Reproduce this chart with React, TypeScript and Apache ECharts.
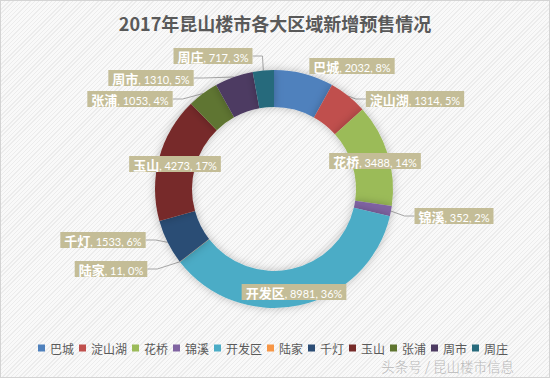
import React, { useEffect, useRef } from "react";
import * as echarts from "echarts";

const categories = ["巴城", "淀山湖", "花桥", "锦溪", "开发区", "陆家", "千灯", "玉山", "张浦", "周市", "周庄"];
const values = [2032, 1314, 3488, 352, 8981, 11, 1533, 4273, 1053, 1310, 717];
const colors = ["#4F81BD", "#C0504D", "#9BBB59", "#8064A2", "#4BACC6", "#F79646", "#2C4D75", "#772C2A", "#5F7530", "#4D3B62", "#276A7C"];
const titleText = "2017年昆山楼市各大区域新增预售情况";
const watermark = "头条号 / 昆山楼市信息";
// label box centres (callout placement)
const labelX = [352, 415, 375, 454, 294, 111, 103, 175, 130, 151, 213];
const labelY = [66, 99, 161, 216, 292, 269, 240, 164, 99, 78, 56];
const noLine = ["巴城", "花桥", "玉山", "开发区"];

export default function App() {
  const ref = useRef<HTMLDivElement>(null);
  useEffect(() => {
    const chart = echarts.init(ref.current!, null, { renderer: "svg" });
    chart.setOption({
      animation: false,
      color: colors,
      title: {
        text: titleText,
        left: "center",
        top: 9,
        textStyle: { fontSize: 18, fontWeight: "bold", color: "#595959", fontFamily: "Noto Sans CJK SC" },
      },
      legend: {
        left: 33,
        top: 336,
        padding: [5, 5, 2, 5],
        itemWidth: 7,
        itemHeight: 7,
        itemGap: 5,
        icon: "rect",
        textStyle: { fontSize: 12, color: "#595959", fontFamily: "Noto Sans CJK SC", lineHeight: 14 },
        data: categories,
      },
      graphic: [
        {
          type: "text",
          right: 36,
          top: 359,
          style: { text: watermark, fontSize: 13.5, fill: "#b8b8b8", fontFamily: "Noto Sans CJK SC", fontWeight: 300 },
        },
      ],
      series: [
        {
          type: "pie",
          center: [274, 189],
          radius: [82, 119],
          startAngle: 90,
          clockwise: true,
          percentPrecision: 0,
          avoidLabelOverlap: false,
          itemStyle: { shadowBlur: 8, shadowColor: "rgba(0,0,0,0.25)" },
          label: {
            show: true,
            formatter: "{n|{b}}{v|, {c}, {d}%}",
            backgroundColor: "#C4BD97",
            padding: [2, 4, 1, 4],
            rich: {
              n: { fontSize: 13, fontWeight: "bold", color: "#ffffff", fontFamily: "Noto Sans CJK SC" },
              v: { fontSize: 11, color: "#ffffff", fontFamily: "Lato", padding: [2, 0, 0, 0] },
            },
          },
          labelLine: { show: true, length: 10, length2: 10, lineStyle: { color: "#A6A6A6", width: 1 } },
          labelLayout: (params: any) => {
            const i = params.dataIndex;
            return { x: labelX[i], y: labelY[i], align: "center", verticalAlign: "middle" };
          },
          data: categories.map((name, i) => ({
            name,
            value: values[i],
            labelLine: { show: !noLine.includes(name) },
          })),
        },
      ],
    });
    return () => chart.dispose();
  }, []);
  return (
    <div
      style={{
        position: "absolute",
        left: 0,
        top: 0,
        width: 550,
        height: 378,
        boxSizing: "border-box",
        border: "1px solid #d4d4d4",
        background: "repeating-linear-gradient(-45deg, #f9f9f9 0px, #f9f9f9 2px, #ececec 2px, #ececec 3px)",
      }}
    >
      <div ref={ref} style={{ position: "absolute", left: -1, top: -1, width: 550, height: 378 }} />
    </div>
  );
}
